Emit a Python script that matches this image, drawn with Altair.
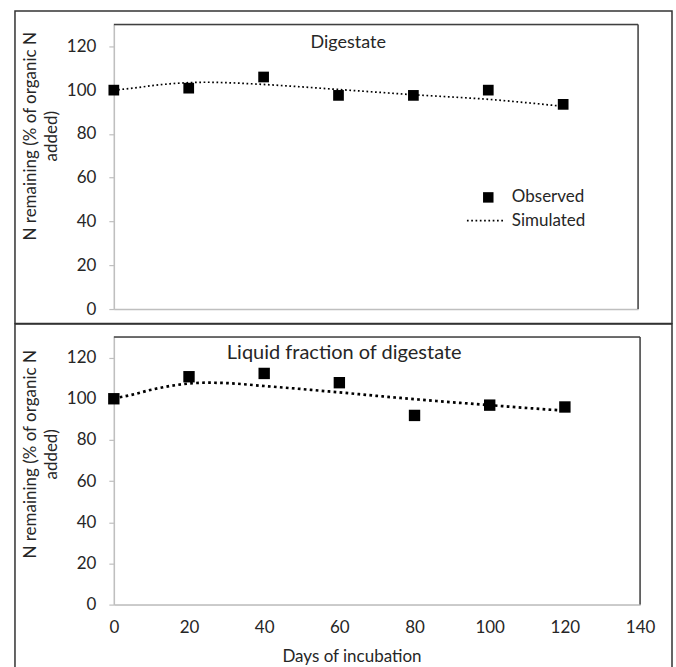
import altair as alt
import pandas as pd

# ---------------- data ----------------
days = [0, 20, 40, 60, 80, 100, 120]
dig_observed = [100.0, 100.9, 106.0, 97.6, 97.6, 100.0, 93.5]
liq_observed = [100.0, 110.7, 112.3, 107.8, 91.9, 96.9, 96.0]

sim_days = [0, 5, 10, 15, 20, 25, 30, 40, 50, 60, 70, 80, 90, 100, 110, 120]
dig_simulated = [100.0, 100.9, 102.0, 102.9, 103.4, 103.6, 103.4, 102.6, 101.5,
                 100.3, 99.1, 97.9, 96.9, 95.8, 94.3, 92.6]
liq_simulated = [100.2, 102.0, 104.4, 106.2, 107.4, 107.8, 107.6, 106.2, 104.7,
                 103.1, 101.4, 99.8, 98.3, 96.9, 95.5, 94.2]

panel_titles = ["Digestate", "Liquid fraction of digestate"]
legend_labels = ["Observed", "Simulated"]
y_title = ["N remaining (% of organic N", "added)"]
x_title = "Days of incubation"
y_ticks = [0, 20, 40, 60, 80, 100, 120]
x_ticks = [0, 20, 40, 60, 80, 100, 120, 140]

FONT = "Lato"
TXT = "#262626"
GRID = "#bfbfbf"
BOX = "#404040"

x_scale = alt.Scale(domain=[0, 140], nice=False, zero=False)
y_scale = alt.Scale(domain=[0, 130], nice=False)


def one():
    return pd.DataFrame({"k": [0]})


def panel(observed, simulated, title, W, H, show_x, lw, dash, msize,
          title_y, rect_top, rect_bottom, legend, title_size, title_day):
    if show_x:
        xaxis = alt.Axis(values=x_ticks, ticks=False, tickSize=0, grid=False,
                         labelFlush=False,
                         domainColor=GRID, domainWidth=1.5,
                         labelFont=FONT, labelFontSize=17, labelColor=TXT,
                         labelPadding=15, title=x_title, titleFont=FONT,
                         titleFontSize=17, titleFontWeight="normal",
                         titleColor=TXT, titleX=238, titleY=57,
                         titleBaseline="alphabetic")
    else:
        xaxis = alt.Axis(labels=False, ticks=False, grid=False,
                         domainColor=GRID, domainWidth=1.5, title=None)
    yaxis = alt.Axis(values=y_ticks, grid=False, domainColor=GRID,
                     domainWidth=1.5, tickColor=GRID, tickSize=5, tickWidth=1.2,
                     labelFont=FONT, labelFontSize=17, labelColor=TXT,
                     labelPadding=13, title=y_title, titleFont=FONT,
                     titleFontSize=17, titleFontWeight="normal", titleColor=TXT,
                     titleLineHeight=21, titleX=-74, titleY=title_y,
                     titleBaseline="bottom")
    xe = alt.X("day:Q", scale=x_scale, axis=xaxis)
    ye = alt.Y("value:Q", scale=y_scale, axis=yaxis)

    sim_df = pd.DataFrame({"day": sim_days, "value": simulated})
    obs_df = pd.DataFrame({"day": days, "value": observed})

    line = alt.Chart(sim_df).mark_line(
        color="black", strokeWidth=lw, strokeDash=dash, interpolate="monotone"
    ).encode(x=xe, y=ye)
    pts = alt.Chart(obs_df).mark_square(
        size=msize, color="black", opacity=1
    ).encode(x=xe, y=ye)
    ttl = alt.Chart(pd.DataFrame({"day": [title_day], "value": [119.3], "t": [title]})).mark_text(
        font=FONT, fontSize=title_size, color=TXT, align="center", baseline="alphabetic"
    ).encode(x=xe, y=ye, text="t:N")

    top_rule = alt.Chart(one()).mark_rule(color=BOX, strokeWidth=1.5).encode(
        x=alt.value(0), x2=alt.value(W), y=alt.value(0))
    right_rule = alt.Chart(one()).mark_rule(color=BOX, strokeWidth=1.5).encode(
        x=alt.value(W), y=alt.value(0), y2=alt.value(H))
    outer = alt.Chart(one()).mark_rect(
        fillOpacity=0, stroke="#333333", strokeWidth=1.5
    ).encode(x=alt.value(-99), x2=alt.value(559),
             y=alt.value(rect_top), y2=alt.value(rect_bottom))

    layers = [outer, top_rule, right_rule, line, pts, ttl]

    if legend:
        lg_pt = alt.Chart(pd.DataFrame({"day": [100.0], "value": [51.0]})).mark_square(
            size=110, color="black", opacity=1).encode(x=xe, y=ye)
        lg_line = alt.Chart(pd.DataFrame({"day": [94.3, 104.1], "value": [40.4, 40.4]})).mark_line(
            color="black", strokeWidth=lw, strokeDash=dash).encode(x=xe, y=ye)
        lg_txt = alt.Chart(pd.DataFrame({"day": [106.3, 106.3], "value": [51.0, 40.4],
                                         "t": legend_labels})).mark_text(
            font=FONT, fontSize=17, color=TXT, align="left", baseline="middle"
        ).encode(x=xe, y=ye, text="t:N")
        layers += [lg_pt, lg_line, lg_txt]

    return alt.layer(*layers).properties(width=W, height=H)


top = panel(dig_observed, dig_simulated, panel_titles[0], 525, 285,
            False, 1.7, [1.7, 2.6], 115, 111.5, -13.5, 299.5, True, 18, 62.6)
bottom = panel(liq_observed, liq_simulated, panel_titles[1], 527, 268,
               True, 2.7, [2.7, 3.3], 130, 117, -13, 334, False, 20, 61.3)

chart = alt.vconcat(top, bottom, spacing=-3).properties(
    padding={"left": 13, "top": 9, "right": 2, "bottom": 0}
).configure_view(strokeWidth=0).configure(background="white")

chart.save("out.html", embed_options={"renderer": "svg", "actions": False})
